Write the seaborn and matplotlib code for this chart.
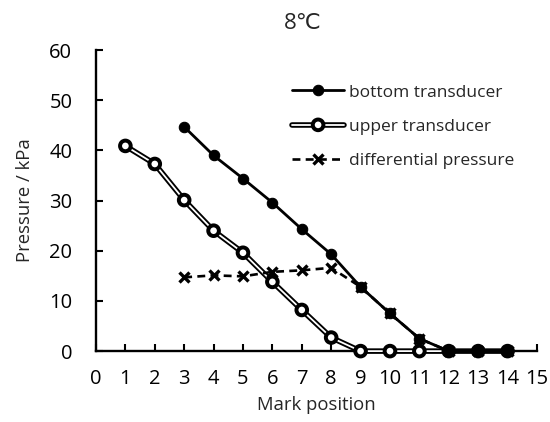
import matplotlib
matplotlib.use("Agg")
import matplotlib.pyplot as plt
import matplotlib.patheffects as pe
import seaborn as sns

x_bottom = [3, 4, 5, 6, 7, 8, 9, 10, 11, 12, 13, 14]
bottom = [44.7, 39.0, 34.4, 29.6, 24.3, 19.3, 12.8, 7.5, 2.5, 0, 0, 0]
x_upper = [1, 2, 3, 4, 5, 6, 7, 8, 9, 10, 11, 12, 13, 14]
upper = [40.9, 37.3, 30.1, 24.0, 19.6, 13.8, 8.2, 2.7, 0, 0, 0, 0, 0, 0]
x_diff = [3, 4, 5, 6, 7, 8, 9, 10, 11, 12, 13, 14]
diff = [14.7, 15.1, 14.9, 15.8, 16.1, 16.6, 12.8, 7.5, 2.5, 0, 0, 0]
x_ticks = list(range(0, 16))
y_ticks = [0, 10, 20, 30, 40, 50, 60]

sns.set_theme(style="ticks")
plt.rcParams['font.family'] = ['Open Sans', 'DejaVu Sans']

fig = plt.figure(figsize=(5.5, 4.22), dpi=100)
ax = fig.add_axes([0.1745, 0.168, 0.8018, 0.7133])

sns.lineplot(x=x_upper, y=upper, ax=ax, color='white', linewidth=1.3, marker='o',
             markersize=6.5, markerfacecolor='white', markeredgecolor='black',
             markeredgewidth=1.7, clip_on=False, zorder=3,
             path_effects=[pe.Stroke(linewidth=4.0, foreground='black'), pe.Normal()],
             label='upper transducer')
sns.lineplot(x=x_diff, y=diff, ax=ax, color='black', linewidth=1.9, marker='x',
             markersize=7, markeredgewidth=2.4, markeredgecolor='black',
             clip_on=False, zorder=4, label='differential pressure')
ax.lines[-1].set_linestyle((0, (3.0, 2.0)))
sns.lineplot(x=x_bottom, y=bottom, ax=ax, color='black', linewidth=2.0, marker='o',
             markersize=7.5, markerfacecolor='black', markeredgecolor='black',
             markeredgewidth=0.8, clip_on=False, zorder=5, label='bottom transducer')

ax.set_xlim(0, 15)
ax.set_ylim(0, 60)
ax.set_xticks(x_ticks)
ax.set_yticks(y_ticks)
ax.set_xticklabels([str(v) for v in x_ticks], fontsize=14.5)
ax.set_yticklabels([str(v) for v in y_ticks], fontsize=14.5)
ax.tick_params(direction='in', length=5, width=1.5, colors='black')
ax.tick_params(axis='x', pad=13)
ax.tick_params(axis='y', pad=17)
for s in ['top', 'right']:
    ax.spines[s].set_visible(False)
for s in ['left', 'bottom']:
    ax.spines[s].set_linewidth(1.7)
    ax.spines[s].set_color('black')

ax.set_xlabel('Mark position', fontsize=13.3, labelpad=5)
ax.set_ylabel('Pressure / kPa', fontsize=13.3, labelpad=11)
fig.text(0.551, 0.945, '8℃', ha='center', va='center', fontsize=16,
         family=['Open Sans', 'DejaVu Sans'])

handles, labels = ax.get_legend_handles_labels()
order = [labels.index('bottom transducer'), labels.index('upper transducer'),
         labels.index('differential pressure')]
ax.legend([handles[i] for i in order], [labels[i] for i in order],
          loc='upper left', bbox_to_anchor=(0.531, 0.80), bbox_transform=fig.transFigure,
          frameon=False, borderpad=0, borderaxespad=0,
          fontsize=12.5, handlelength=3.0, handletextpad=0.3, labelspacing=1.05)

fig.savefig('out.png', dpi=100)
